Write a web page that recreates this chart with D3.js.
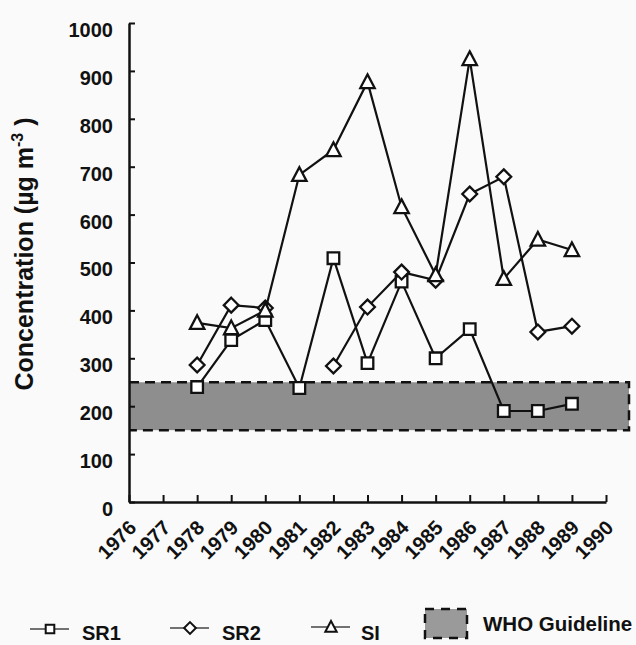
<!DOCTYPE html>
<html lang="en-gb">
<meta charset="utf-8">

<head>
    <style>
        body {
            margin: 0;
            background: #fafafa;
        }
        svg {
            font-family: "Liberation Sans", Arial, sans-serif;
            font-weight: bold;
        }
    </style>
    <script src="https://d3js.org/d3.v7.min.js"></script>
</head>

<body>

</body>
<script>
    // variables
    var svgWidth = 636;
    var svgHeight = 645;

    // data (annual means, ug/m3)
    var years = [1978, 1979, 1980, 1981, 1982, 1983, 1984, 1985, 1986, 1987, 1988, 1989];
    var sr1 = [240, 338, 380, 238, 509, 290, 460, 300, 361, 190, 190, 205];
    var sr2 = [286, 411, 405, null, 284, 407, 480, 463, 643, 679, 355, 367];
    var si = [374, 363, 400, 683, 735, 877, 616, 474, 925, 466, 548, 526];
    var xTicks = [1976, 1977, 1978, 1979, 1980, 1981, 1982, 1983, 1984, 1985, 1986, 1987, 1988, 1989, 1990];
    var yTicks = [0, 100, 200, 300, 400, 500, 600, 700, 800, 900, 1000];
    var who = [150, 250]; // guideline band
    var seriesNames = ["SR1", "SR2", "SI"];

    var svg = d3.select("body")
        .append("svg")
        .attr("width", svgWidth)
        .attr("height", svgHeight);

    var x = d3.scaleLinear().domain([1976, 1990]).range([129, 606]);
    var y = d3.scaleLinear().domain([0, 1000]).range([502, 23]);

    // marker shapes
    function square(s) {
        return "M" + (-s) + "," + (-s) + "h" + (2 * s) + "v" + (2 * s) + "h" + (-2 * s) + "Z";
    }
    function diamond(s) {
        return "M0," + (-s) + "L" + s + ",0L0," + s + "L" + (-s) + ",0Z";
    }
    function triangle(s) {
        return "M0," + (-s * 1.05) + "L" + s + "," + (s * 0.85) + "L" + (-s) + "," + (s * 0.85) + "Z";
    }
    var shapes = [square, diamond, triangle];
    var sizes = [5.8, 7.4, 7.2];

    // WHO band
    var bandRight = x(1990) + 23;
    svg.append("rect")
        .attr("x", x(1976))
        .attr("y", y(who[1]))
        .attr("width", bandRight - x(1976))
        .attr("height", y(who[0]) - y(who[1]))
        .attr("fill", "#8e8e8e");
    svg.append("path")
        .attr("d", "M" + x(1976) + "," + y(who[1]) + "H" + bandRight + "V" + y(who[0]) + "H" + x(1976))
        .attr("fill", "none")
        .attr("stroke", "#111")
        .attr("stroke-width", 2.5)
        .attr("stroke-dasharray", "10,6");

    // axes
    var yAxis = d3.axisLeft(y)
        .tickValues(yTicks)
        .tickFormat(d3.format("d"))
        .tickSizeInner(-6)
        .tickSizeOuter(0)
        .tickPadding(16);
    var gy = svg.append("g")
        .attr("transform", "translate(" + x(1976) + ",0)")
        .call(yAxis);
    gy.selectAll("text")
        .attr("font-size", 20)
        .attr("fill", "#111")
        .attr("transform", "translate(0,7)");

    var xAxis = d3.axisBottom(x)
        .tickValues(xTicks)
        .tickFormat(d3.format("d"))
        .tickSizeInner(-7)
        .tickSizeOuter(0);
    var gx = svg.append("g")
        .attr("transform", "translate(0," + y(0) + ")")
        .call(xAxis);
    gx.selectAll("text")
        .attr("x", 0)
        .attr("y", 0)
        .attr("dy", 0)
        .attr("text-anchor", "end")
        .attr("font-size", 20)
        .attr("fill", "#111")
        .attr("transform", "translate(8,27) rotate(-45)");

    svg.selectAll(".domain").attr("stroke", "#111").attr("stroke-width", 2.5);
    svg.selectAll(".tick line").attr("stroke", "#111").attr("stroke-width", 2);

    // y label
    var ylab = svg.append("text")
        .attr("transform", "translate(33,254) rotate(-90)")
        .attr("text-anchor", "middle")
        .attr("font-size", 25)
        .attr("fill", "#111")
        .text("Concentration (\u00b5g m");
    ylab.append("tspan")
        .attr("font-size", 16)
        .attr("dy", -10)
        .text("-3");
    ylab.append("tspan")
        .attr("dy", 10)
        .text(" )");

    // series
    var allSeries = [sr1, sr2, si];
    var line = d3.line()
        .defined(function (d) { return d.v != null; })
        .x(function (d) { return x(d.year); })
        .y(function (d) { return y(d.v); });

    allSeries.forEach(function (vals, k) {
        var pts = years.map(function (yr, i) { return { year: yr, v: vals[i] }; });
        svg.append("path")
            .datum(pts)
            .attr("d", line)
            .attr("fill", "none")
            .attr("stroke", "#111")
            .attr("stroke-width", 2.2);
        svg.selectAll(".m" + k)
            .data(pts.filter(function (d) { return d.v != null; }))
            .enter()
            .append("path")
            .attr("class", "m" + k)
            .attr("transform", function (d) { return "translate(" + x(d.year) + "," + y(d.v) + ")"; })
            .attr("d", shapes[k](sizes[k]))
            .attr("fill", "#fff")
            .attr("stroke", "#111")
            .attr("stroke-width", 2.3);
    });

    // legend
    var legX = [50, 190, 331];
    var legY = [629, 628, 627];
    var legTextX = [82, 222, 361];
    seriesNames.forEach(function (name, k) {
        var g = svg.append("g").attr("transform", "translate(" + legX[k] + "," + legY[k] + ")");
        g.append("line")
            .attr("x1", -20).attr("x2", 19)
            .attr("stroke", "#444").attr("stroke-width", 1.6);
        g.append("path")
            .attr("d", shapes[k](sizes[k] - 1.5))
            .attr("fill", "#fff")
            .attr("stroke", "#111")
            .attr("stroke-width", 2);
        svg.append("text")
            .attr("x", legTextX[k])
            .attr("y", 640)
            .attr("font-size", 20)
            .attr("fill", "#111")
            .text(name);
    });

    svg.append("rect")
        .attr("x", 425).attr("y", 609)
        .attr("width", 42).attr("height", 29)
        .attr("fill", "#9a9a9a")
        .attr("stroke", "#111")
        .attr("stroke-width", 2.5)
        .attr("stroke-dasharray", "9,7");
    svg.append("text")
        .attr("x", 483)
        .attr("y", 631)
        .attr("font-size", 20.5)
        .attr("fill", "#111")
        .text("WHO Guideline");
</script>

</html>
